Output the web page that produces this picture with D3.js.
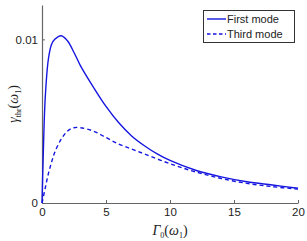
<!DOCTYPE html>
<html><head><meta charset="utf-8">
<script src="https://cdn.jsdelivr.net/npm/d3@7"></script>
<style>body{margin:0;background:#fff}svg{display:block}</style>
</head><body>
<svg id="c" width="307" height="241"></svg>
<script>
const xFirst = [0,0.1,0.25,0.5,0.75,1,1.5,2,2.5,3,4,5,6,7,8,9,10,12,14,16,18,20];
const yFirst = [0,0.0030,0.0064,0.0088,0.0097,0.0100,0.01022,0.0099,0.0092,0.0084,0.0071,0.0059,0.0049,0.0041,0.0035,0.0030,0.0026,0.0020,0.0016,0.0013,0.0011,0.0009];
const xThird = [0,0.25,0.5,0.75,1,1.5,2,2.5,3,4,5,6,7,8,10,12,14,16,18,20];
const yThird = [0,0.0009,0.0018,0.0025,0.0031,0.0039,0.0044,0.0046,0.0046,0.0044,0.0040,0.0036,0.0033,0.0030,0.0024,0.0019,0.0015,0.0012,0.0010,0.00085];
const xTicks = [0,5,10,15,20];
const yTicks = [0,0.01];
const seriesNames = ["First mode","Third mode"];

const svg = d3.select("#c");
const x = d3.scaleLinear().domain([0,20]).range([42,298]);
const y = d3.scaleLinear().domain([0,0.0121]).range([203,5]);
const axisColor = "#666";
const blue = "#1515e0";

const xa = svg.append("g").attr("transform","translate(0,203)")
  .call(d3.axisBottom(x).tickValues(xTicks).tickSizeInner(-3).tickSizeOuter(0).tickPadding(5));
const ya = svg.append("g").attr("transform","translate(42,0)")
  .call(d3.axisLeft(y).tickValues(yTicks).tickFormat(d=>d===0?"0":d3.format(".2f")(d)).tickSizeInner(-3).tickSizeOuter(0).tickPadding(4));
[xa,ya].forEach(g=>{
  g.select(".domain").attr("stroke",axisColor).attr("stroke-width",1.2);
  g.selectAll(".tick line").attr("stroke",axisColor);
  g.selectAll("text").attr("font-family","Liberation Sans, Arial, sans-serif").attr("font-size",11.5).attr("fill","#222");
});

const line = d3.line().x(d=>x(d[0])).y(d=>y(d[1])).curve(d3.curveCatmullRom.alpha(0.5));
svg.append("path").datum(xFirst.map((v,i)=>[v,yFirst[i]]))
  .attr("d",line).attr("fill","none").attr("stroke",blue).attr("stroke-width",1.4);
svg.append("path").datum(xThird.map((v,i)=>[v,yThird[i]]))
  .attr("d",line).attr("fill","none").attr("stroke",blue).attr("stroke-width",1.4).attr("stroke-dasharray","4,3");

const lg = svg.append("g");
lg.append("rect").attr("x",203.5).attr("y",10.5).attr("width",91).attr("height",32)
  .attr("fill","#fff").attr("stroke","#333").attr("stroke-width",1);
seriesNames.forEach((n,i)=>{
  const yy = 19 + i*15;
  lg.append("line").attr("x1",207).attr("x2",226).attr("y1",yy).attr("y2",yy)
    .attr("stroke",blue).attr("stroke-width",1.4).attr("stroke-dasharray",i?"3.5,2.5":null);
  lg.append("text").attr("x",227).attr("y",yy+4).text(n)
    .attr("font-family","Liberation Sans, Arial, sans-serif").attr("font-size",11).attr("fill","#222");
});

const xl = svg.append("text").attr("x",170).attr("y",235).attr("text-anchor","middle")
  .attr("font-family","Liberation Serif, Times New Roman, serif").attr("font-size",14).attr("fill","#222");
xl.append("tspan").attr("font-style","italic").text("Γ");
xl.append("tspan").attr("font-size",8).attr("dy",3).text("0");
xl.append("tspan").attr("dy",-3).text("(");
xl.append("tspan").attr("font-style","italic").text("ω");
xl.append("tspan").attr("font-size",8).attr("dy",3).text("1");
xl.append("tspan").attr("dy",-3).text(")");

const yl = svg.append("text").attr("transform","translate(18,104) rotate(-90)").attr("text-anchor","middle")
  .attr("font-family","Liberation Serif, Times New Roman, serif").attr("font-size",14).attr("fill","#222");
yl.append("tspan").attr("font-style","italic").text("γ");
yl.append("tspan").attr("font-size",8).attr("dy",3).text("thr");
yl.append("tspan").attr("dy",-3).text("(");
yl.append("tspan").attr("font-style","italic").text("ω");
yl.append("tspan").attr("font-size",8).attr("dy",3).text("1");
yl.append("tspan").attr("dy",-3).text(")");
</script>
</body></html>
